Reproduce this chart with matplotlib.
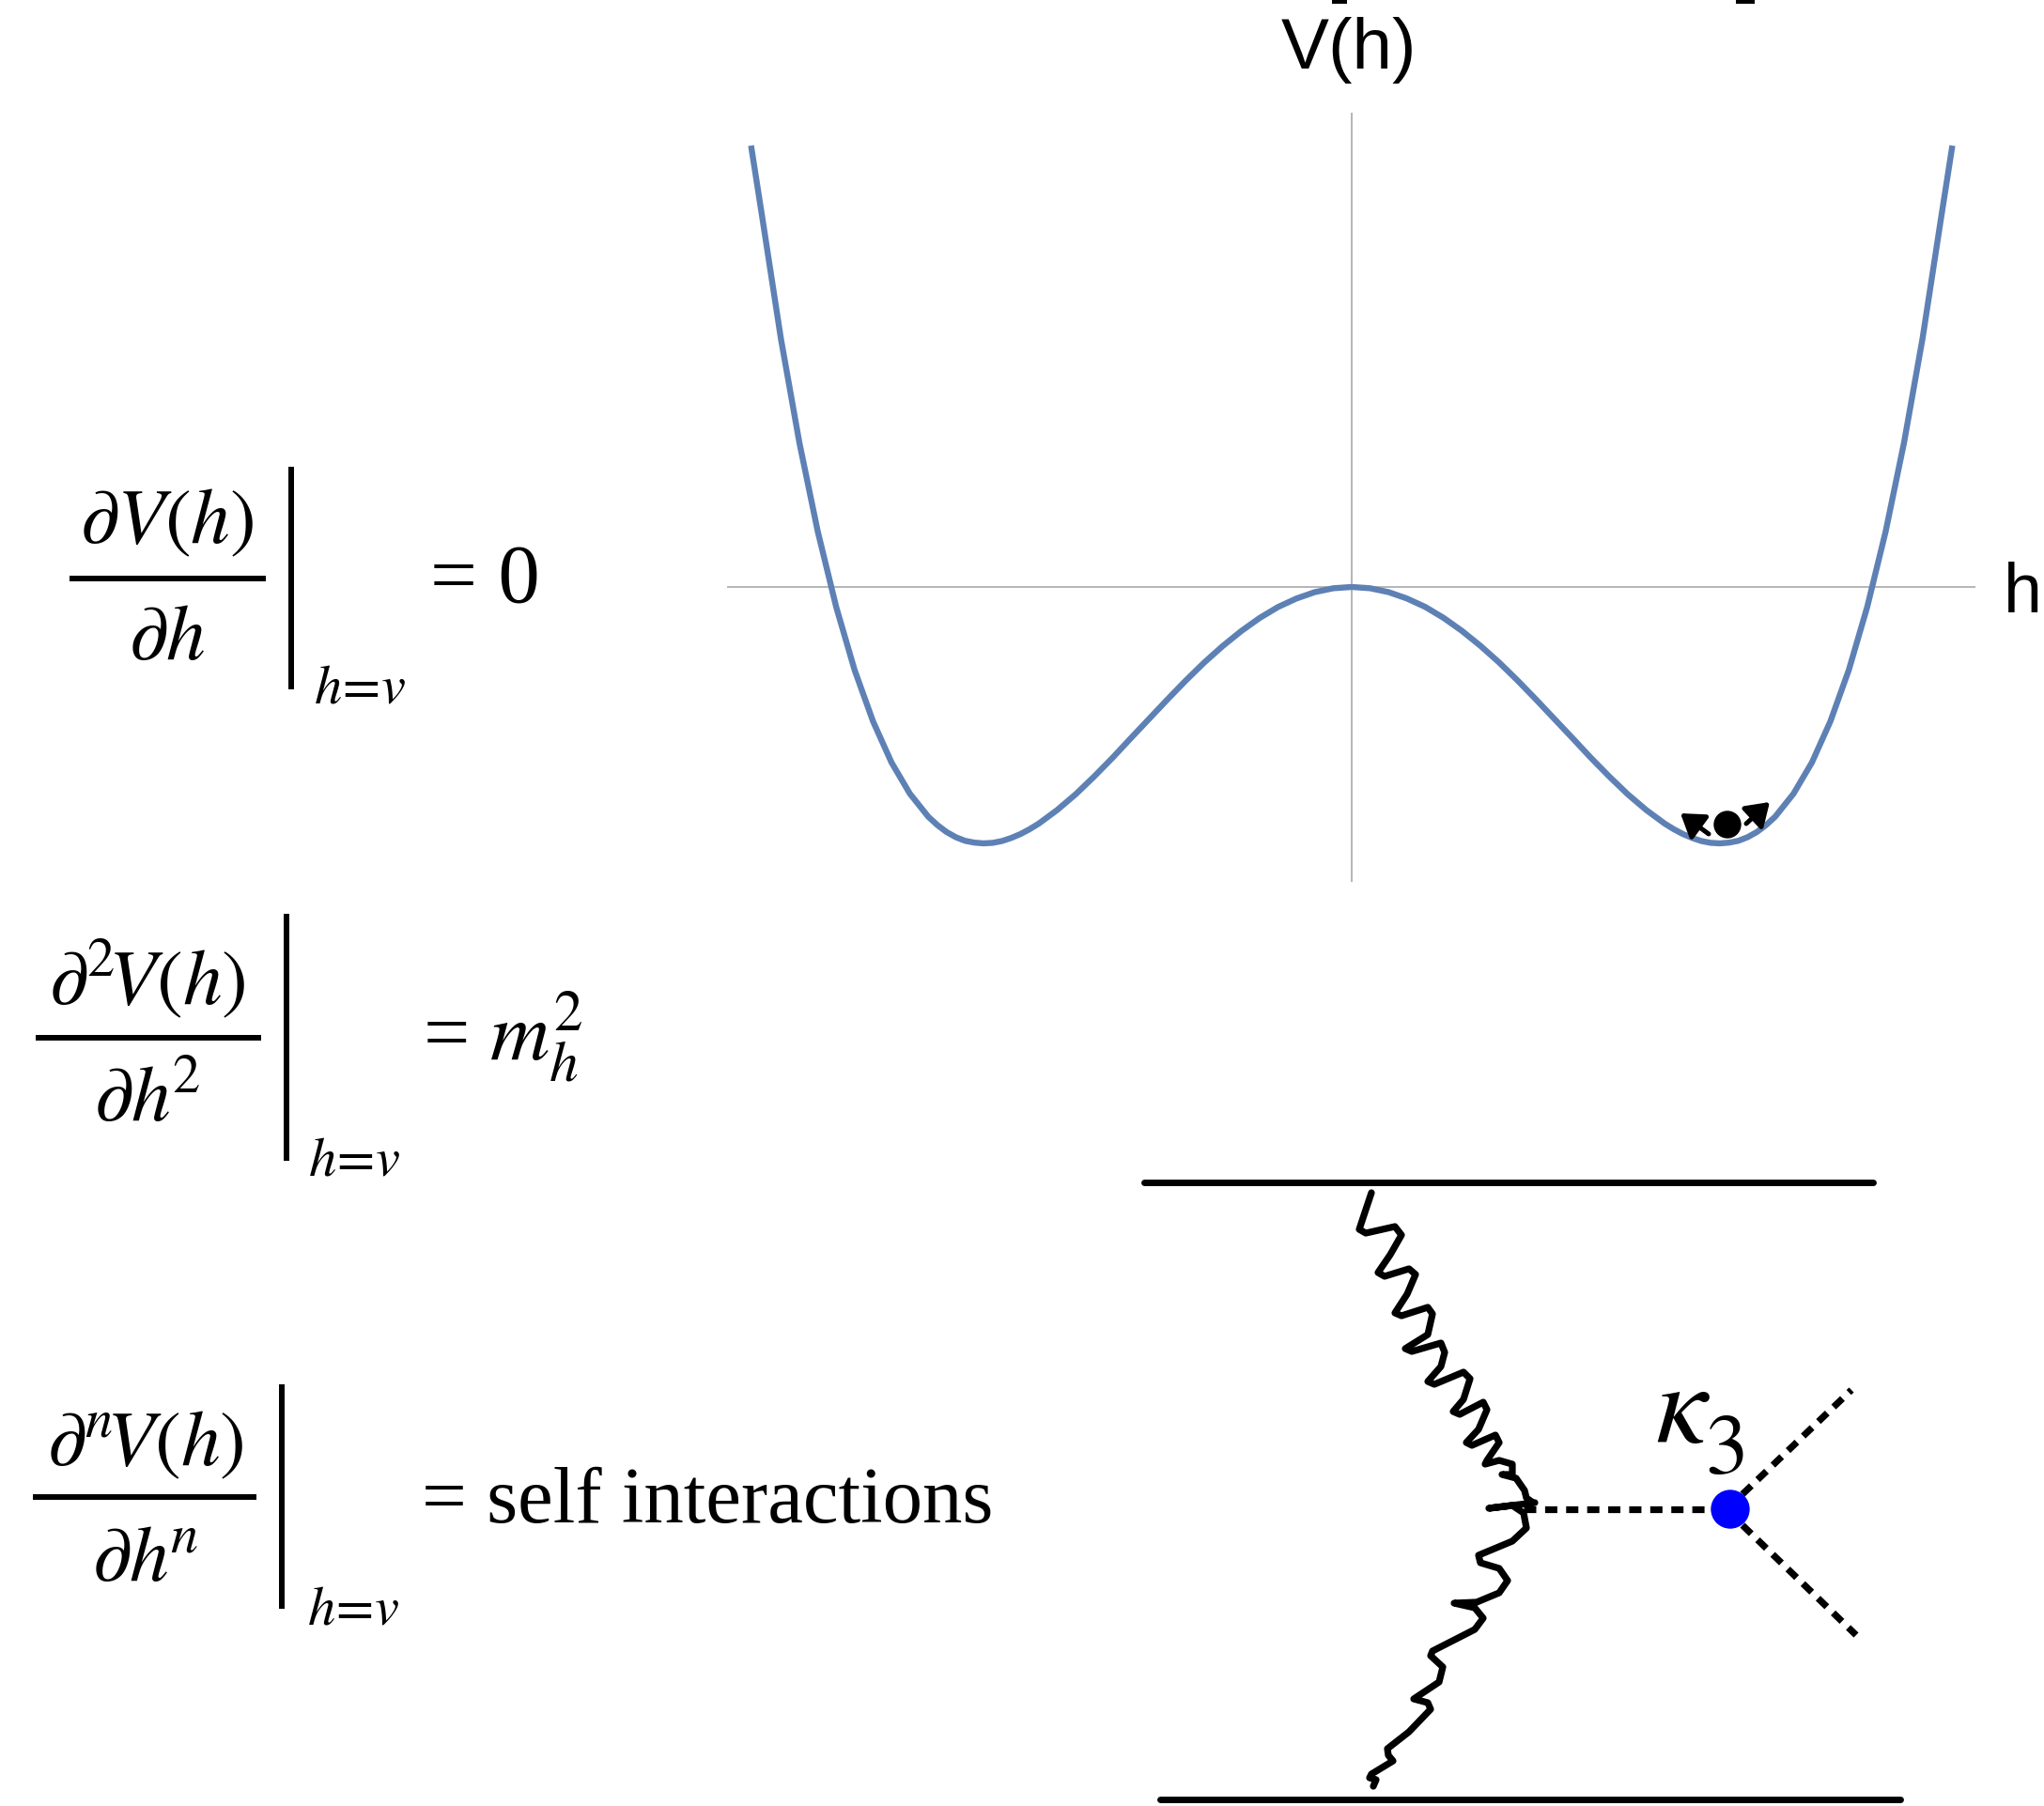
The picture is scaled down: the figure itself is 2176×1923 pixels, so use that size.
import matplotlib
matplotlib.use("Agg")
import matplotlib.pyplot as plt
from matplotlib.patches import Circle, Rectangle

plt.rcParams["mathtext.fontset"] = "stix"
plt.rcParams["font.family"] = ["Liberation Serif", "DejaVu Serif"]

W, H = 2176, 1924

# potential V(h) in units of v
H_VALS = [-1.63, -1.60, -1.55, -1.50, -1.45, -1.40, -1.35, -1.30, -1.25, -1.20, -1.15, -1.125,
          -1.10, -1.075, -1.05, -1.025, -1.00, -0.975, -0.95, -0.925, -0.90, -0.875, -0.85,
          -0.80, -0.75, -0.70, -0.65, -0.60, -0.55, -0.50, -0.45, -0.40, -0.35, -0.30, -0.25,
          -0.20, -0.15, -0.10, -0.05, 0.00, 0.05, 0.10, 0.15, 0.20, 0.25, 0.30, 0.35, 0.40,
          0.45, 0.50, 0.55, 0.60, 0.65, 0.70, 0.75, 0.80, 0.85, 0.875, 0.90, 0.925, 0.95,
          0.975, 1.00, 1.025, 1.05, 1.075, 1.10, 1.125, 1.15, 1.20, 1.25, 1.30, 1.35, 1.40,
          1.45, 1.50, 1.55, 1.60, 1.63]
V_VALS = [1.710, 1.434, 0.967, 0.563, 0.216, -0.078, -0.324, -0.524, -0.684, -0.806, -0.896,
          -0.929, -0.956, -0.976, -0.990, -0.997, -1.000, -0.998, -0.991, -0.979, -0.964,
          -0.945, -0.923, -0.870, -0.809, -0.740, -0.667, -0.590, -0.514, -0.438, -0.364,
          -0.294, -0.230, -0.172, -0.121, -0.078, -0.045, -0.020, -0.005, 0.000, -0.005,
          -0.020, -0.045, -0.078, -0.121, -0.172, -0.230, -0.294, -0.364, -0.438, -0.514,
          -0.590, -0.667, -0.740, -0.809, -0.870, -0.923, -0.945, -0.964, -0.979, -0.991,
          -0.998, -1.000, -0.997, -0.990, -0.976, -0.956, -0.929, -0.896, -0.806, -0.684,
          -0.524, -0.324, -0.078, 0.216, 0.563, 0.967, 1.434, 1.710]

# ball sitting in the right minimum (pixel coords)
BALL = (1839, 879)
ARROW_TAILS = [(1819, 889), (1859, 878)]
ARROW_TIPS = [(1789, 867), (1884, 855)]

# Feynman diagram (pixel coords)
FERMION_TOP_X = [1218, 1994]
FERMION_TOP_Y = [1260, 1260]
FERMION_BOT_X = [1235, 2023]
FERMION_BOT_Y = [1917, 1917]

PHOTON_UP_X = [1460, 1447, 1454, 1485, 1492, 1480, 1467, 1474, 1500, 1507, 1498, 1485, 1492,
               1520, 1525, 1520, 1496, 1503, 1534, 1538, 1534, 1520, 1527, 1558, 1565, 1558,
               1547, 1554, 1579, 1583, 1574, 1561, 1567, 1592, 1596, 1583, 1581, 1596, 1610,
               1610, 1599, 1614, 1623, 1625, 1632]
PHOTON_UP_Y = [1271, 1310, 1314, 1307, 1316, 1337, 1356, 1360, 1352, 1358, 1379, 1399, 1402,
               1393, 1400, 1422, 1437, 1440, 1431, 1441, 1456, 1472, 1475, 1462, 1469, 1491,
               1504, 1507, 1494, 1502, 1523, 1537, 1540, 1529, 1537, 1556, 1560, 1556, 1560,
               1571, 1571, 1575, 1588, 1596, 1601]
PHOTON_LO_X = [1634, 1585, 1610, 1622, 1625, 1610, 1574, 1576, 1596, 1605, 1596, 1572, 1548,
               1570, 1579, 1570, 1525, 1523, 1536, 1532, 1505, 1520, 1523, 1500, 1477, 1478,
               1483, 1460, 1458, 1465, 1462]
PHOTON_LO_Y = [1601, 1607, 1604, 1612, 1628, 1642, 1657, 1665, 1671, 1684, 1697, 1707, 1708,
               1713, 1724, 1736, 1759, 1764, 1776, 1792, 1810, 1814, 1821, 1845, 1863, 1870,
               1876, 1890, 1894, 1896, 1903]

VERTEX = (1842, 1608)
HIGGS_IN = [(1622, 1608), (1822, 1608)]
HIGGS_OUT_UP = [(1855, 1592), (1971, 1481)]
HIGGS_OUT_DN = [(1855, 1625), (1976, 1742)]

# equations: numerator, denominator, rhs
NUMERATORS = [r"$\partial V(h)$", r"$\partial^2\!V(h)$", r"$\partial^n\!V(h)$"]
DENOMINATORS = [r"$\partial h$", r"$\partial h^{\!2}$", r"$\partial h^{\!n}$"]
RHS = ["= 0", r"= $m_h^2$", "= self interactions"]
EQ_CENTER_X = [178, 157, 155]
EQ_NUM_BASE = [578, 1070, 1560]
EQ_BAR = [(74, 283, 617), (38, 278, 1106), (35, 273, 1595)]
EQ_DEN_BASE = [702, 1194, 1683]
EQ_VBAR = [(310, 498, 735), (305, 974, 1237), (300, 1475, 1714)]
EQ_SUB = [(334, 749), (328, 1252), (327, 1730)]
EQ_RHS = [(458, 641, 64), (450, 1128, 63), (449, 1621, 61)]

fig = plt.figure(figsize=(W / 100, H / 100), dpi=100)

# potential panel
x0, x1, y0, y1 = 774, 2103, 121, 940
hc, vc, sx, sy = 1439, 626, 392.0, 273.0
pot = fig.add_axes([x0 / W, 1 - y1 / H, (x1 - x0) / W, (y1 - y0) / H])
pot.set_xlim((x0 - hc) / sx, (x1 - hc) / sx)
pot.set_ylim((vc - y1) / sy, (vc - y0) / sy)
pot.axis("off")
pot.axhline(0, color="#a0a0a0", lw=1.1)
pot.axvline(0, color="#a0a0a0", lw=1.1)
pot.plot(H_VALS, V_VALS, color="#5e81b5", lw=4.6, solid_joinstyle="round")

ax = fig.add_axes([0, 0, 1, 1])
ax.set_xlim(0, W)
ax.set_ylim(H, 0)
ax.axis("off")

sans = ["Liberation Sans", "DejaVu Sans"]
ax.text(1436, 73, "V(h)", fontsize=55, family=sans, ha="center", va="baseline")
ax.text(2133, 652, "h", fontsize=53, family=sans, ha="left", va="baseline")
for mx, mw in ((1418, 16), (1848, 20)):
    ax.add_patch(Rectangle((mx, 0), mw, 5, color="black", lw=0))

ax.add_patch(Circle(BALL, 14, color="black", zorder=5))
for tail, tip in zip(ARROW_TAILS, ARROW_TIPS):
    ax.annotate("", xy=tip, xytext=tail,
                arrowprops=dict(arrowstyle="-|>,head_length=0.6,head_width=0.4",
                                color="black", lw=3.6, shrinkA=0, shrinkB=0,
                                mutation_scale=24))

# Feynman diagram
ax.plot(FERMION_TOP_X, FERMION_TOP_Y, color="black", lw=5, solid_capstyle="round")
ax.plot(FERMION_BOT_X, FERMION_BOT_Y, color="black", lw=5, solid_capstyle="round")
ax.plot(PHOTON_UP_X, PHOTON_UP_Y, color="black", lw=5.2,
        solid_capstyle="round", solid_joinstyle="round")
ax.plot(PHOTON_LO_X, PHOTON_LO_Y, color="black", lw=5.2,
        solid_capstyle="round", solid_joinstyle="round")
for seg in (HIGGS_IN, HIGGS_OUT_UP, HIGGS_OUT_DN):
    ax.plot([seg[0][0], seg[1][0]], [seg[0][1], seg[1][1]], color="black", lw=5.2,
            linestyle=(0, (1.8, 1.3)), dash_capstyle="butt")
ax.add_patch(Circle(VERTEX, 20, color="#0000ff", zorder=5))
ax.text(1762, 1536, r"$\kappa$", fontsize=88, ha="left", va="baseline")
ax.text(1815, 1569, r"$\mathrm{3}$", fontsize=66, ha="left", va="baseline")

# equations
for i in range(3):
    ax.text(EQ_CENTER_X[i], EQ_NUM_BASE[i], NUMERATORS[i], fontsize=60,
            ha="center", va="baseline")
    bx0, bx1, by = EQ_BAR[i]
    ax.plot([bx0, bx1], [by, by], color="black", lw=4.3, solid_capstyle="butt")
    ax.text(EQ_CENTER_X[i], EQ_DEN_BASE[i], DENOMINATORS[i], fontsize=60,
            ha="center", va="baseline")
    vx, vy0, vy1 = EQ_VBAR[i]
    ax.plot([vx, vx], [vy0, vy1], color="black", lw=4.3, solid_capstyle="butt")
    ax.text(EQ_SUB[i][0], EQ_SUB[i][1], r"$h\!=\!v$", fontsize=42,
            ha="left", va="baseline")
    rx, ry, rs = EQ_RHS[i]
    ax.text(rx, ry, RHS[i], fontsize=rs, ha="left", va="baseline")

fig.savefig("out.png", dpi=100)
